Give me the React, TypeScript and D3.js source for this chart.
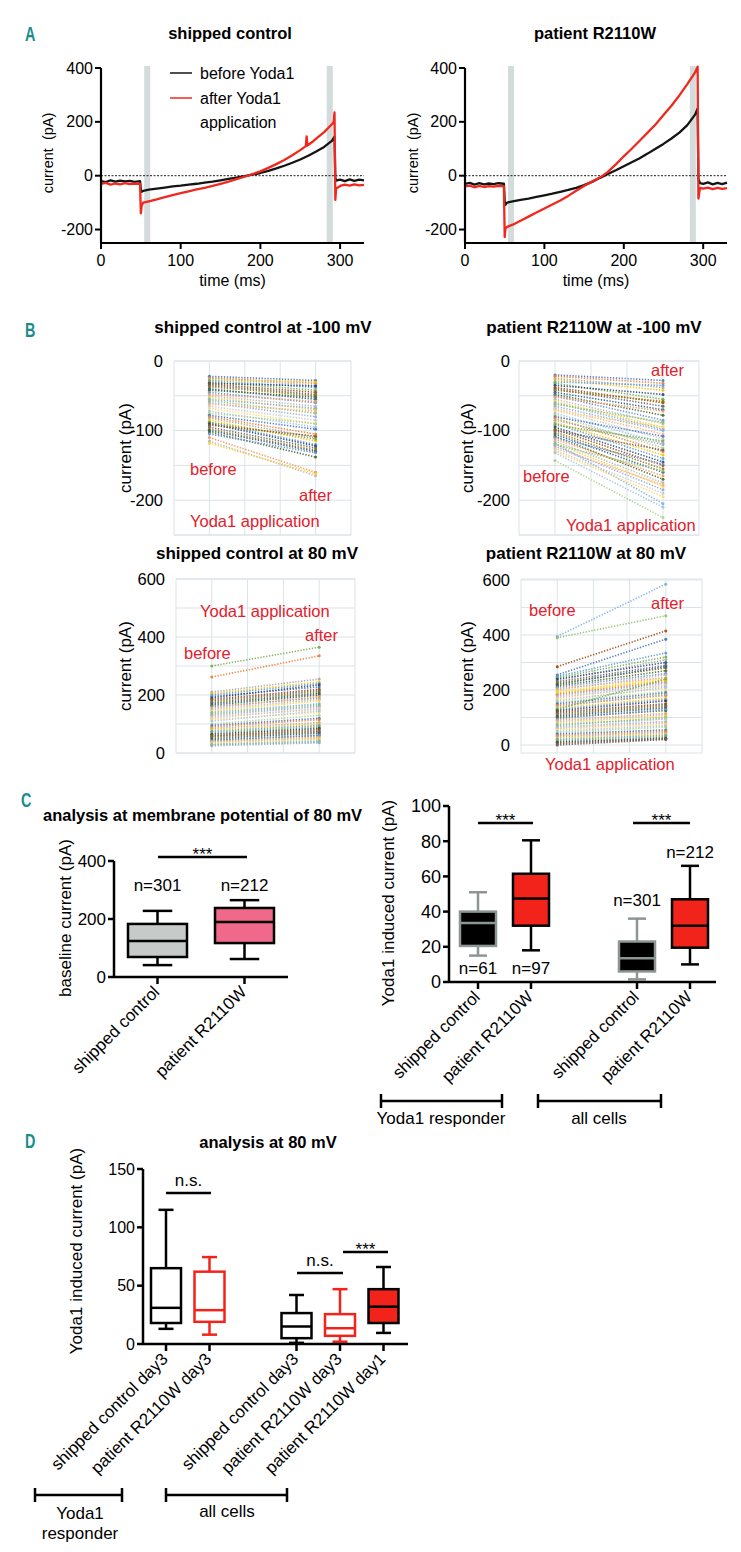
import React from 'react';
import * as d3 from 'd3';

const FONT = '"Liberation Sans", Arial, Helvetica, sans-serif';
const RED = '#f2231b';
const TRACE_RED = '#f0281e';
const TEAL = '#1b8c8c';
const ANNO = '#e4202c';
const GRID = '#dbe3e6';
const PALETTE = ['#4472C4', '#ED7D31', '#A5A5A5', '#FFC000', '#5B9BD5', '#70AD47', '#264478', '#9E480E', '#636363', '#997300', '#255E91', '#43682B', '#698ED0', '#F1975A', '#B7B7B7', '#FFCD33', '#7CAFDD', '#8CC168', '#8FAADC', '#F4B183', '#C9C9C9', '#FFD966', '#9DC3E6', '#A9D18E'];

// ===== Panel A: current traces [time ms, current pA] =====
const aTimeTicks = [0, 100, 200, 300];
const aCurrentTicks = [-200, 0, 200, 400];
const aStepMarks = [58, 287];
const ctrlBefore = [[0, -20], [6, -24], [12, -17], [18, -22], [24, -18], [30, -21], [36, -19], [42, -23], [49, -20], [50, -52], [51, -60], [53, -56], [60, -52], [70, -48], [80, -44], [90, -40], [100, -37], [110, -33], [120, -30], [130, -26], [140, -22], [150, -17], [160, -12], [170, -7], [180, -2], [190, 4], [200, 10], [210, 18], [220, 27], [230, 37], [240, 48], [250, 60], [260, 74], [270, 90], [280, 107], [290, 130], [293, 145], [294, -8], [295, -18], [300, -15], [306, -20], [312, -14], [318, -19], [324, -15], [330, -17]];
const ctrlAfter = [[0, -30], [6, -27], [12, -33], [18, -29], [24, -32], [30, -28], [36, -31], [42, -29], [49, -30], [50, -140], [51, -112], [53, -100], [60, -95], [70, -88], [80, -80], [90, -72], [100, -65], [110, -58], [120, -51], [130, -45], [140, -38], [150, -30], [160, -22], [170, -13], [180, -4], [190, 6], [200, 16], [210, 29], [220, 43], [230, 58], [240, 76], [250, 95], [257, 110], [258, 146], [259, 112], [265, 125], [270, 138], [280, 162], [290, 192], [292, 200], [293, 235], [294, -90], [295, -48], [300, -38], [306, -33], [312, -37], [318, -32], [324, -36], [330, -34]];
const patBefore = [[0, -30], [6, -27], [12, -33], [18, -28], [24, -32], [30, -29], [36, -31], [42, -28], [49, -30], [50, -95], [51, -108], [53, -100], [60, -95], [70, -90], [80, -85], [90, -79], [100, -73], [110, -67], [120, -60], [130, -53], [140, -45], [150, -35], [160, -23], [170, -8], [180, 6], [190, 20], [200, 35], [210, 50], [220, 65], [230, 82], [240, 100], [250, 118], [260, 138], [270, 160], [280, 188], [290, 228], [293, 250], [294, -12], [296, -28], [300, -30], [306, -25], [312, -32], [318, -27], [324, -31], [330, -26]];
const patAfter = [[0, -40], [6, -37], [12, -43], [18, -38], [24, -42], [30, -39], [36, -41], [42, -38], [49, -40], [50, -228], [51, -196], [53, -190], [60, -182], [70, -167], [80, -152], [90, -137], [100, -122], [110, -107], [120, -92], [130, -75], [140, -56], [150, -38], [160, -22], [170, -7], [180, 14], [190, 42], [200, 72], [210, 100], [220, 130], [230, 160], [240, 190], [250, 225], [260, 260], [270, 298], [280, 340], [290, 385], [293, 405], [294, -85], [296, -45], [300, -48], [306, -44], [312, -50], [318, -45], [324, -49], [330, -46]];

// ===== Panel B: paired values (before, after) =====
const bSlots = [1, 4];
const bNegTicks = [-200, -100, 0];
const bPosTicks = [0, 200, 400, 600];
const ctrlNegBefore = [-22, -24, -25, -27, -28, -30, -32, -33, -35, -37, -40, -42, -45, -48, -50, -52, -55, -57, -60, -62, -65, -68, -72, -75, -78, -80, -82, -85, -88, -88, -90, -92, -95, -98, -100, -102, -105, -110, -115, -118];
const ctrlNegAfter = [-28, -32, -35, -30, -38, -42, -36, -45, -48, -50, -55, -52, -60, -58, -65, -70, -68, -75, -80, -72, -85, -90, -95, -90, -98, -105, -110, -115, -120, -112, -122, -108, -125, -128, -130, -138, -132, -160, -165, -162];
const patNegBefore = [-20, -22, -25, -27, -30, -32, -35, -38, -40, -42, -45, -48, -50, -52, -55, -58, -60, -62, -65, -68, -70, -72, -75, -78, -80, -82, -85, -88, -90, -92, -95, -98, -100, -102, -105, -108, -110, -112, -115, -118, -118, -120, -122, -125, -128, -130, -132, -143];
const patNegAfter = [-28, -32, -38, -42, -35, -55, -48, -60, -65, -58, -70, -78, -85, -72, -90, -95, -98, -88, -100, -105, -112, -95, -118, -125, -108, -130, -120, -135, -140, -115, -145, -150, -128, -155, -160, -170, -148, -165, -175, -180, -205, -158, -185, -178, -190, -195, -210, -225];
const ctrlPosBefore = [195, 262, 210, 205, 200, 300, 190, 185, 180, 175, 170, 165, 160, 155, 150, 145, 140, 135, 130, 125, 120, 115, 110, 100, 95, 90, 85, 80, 75, 70, 65, 60, 58, 55, 50, 45, 42, 40, 38, 35, 30, 28, 25];
const ctrlPosAfter = [228, 335, 255, 245, 240, 365, 235, 220, 215, 210, 205, 200, 190, 195, 185, 180, 170, 165, 160, 150, 155, 140, 145, 130, 120, 115, 105, 100, 95, 90, 85, 80, 75, 72, 68, 60, 62, 55, 50, 48, 42, 38, 35];
const patPosBefore = [255, 185, 235, 190, 250, 245, 240, 285, 230, 225, 220, 215, 210, 205, 200, 195, 395, 390, 180, 175, 170, 165, 160, 155, 150, 145, 140, 135, 130, 130, 125, 120, 115, 110, 105, 100, 95, 90, 85, 80, 75, 70, 65, 60, 60, 55, 50, 45, 40, 35, 30, 25, 20, 15, 10, 5, 0];
const patPosAfter = [385, 230, 310, 235, 335, 320, 300, 415, 290, 280, 285, 270, 260, 245, 255, 240, 585, 470, 225, 215, 220, 205, 210, 195, 190, 180, 185, 170, 165, 240, 160, 150, 145, 140, 135, 125, 130, 115, 110, 105, 95, 100, 85, 80, 95, 75, 70, 65, 55, 50, 45, 40, 35, 30, 25, 22, 20];

// ===== Panel C: box statistics [min, q1, median, q3, max] =====
const cBaseCats = ['shipped control', 'patient R2110W'];
const cBaseN = ['n=301', 'n=212'];
const cBaseStats = [[41, 69, 124, 183, 228], [62, 117, 190, 238, 265]];
const cBaseTicks = [0, 200, 400];
const cYodaCats = ['shipped control', 'patient R2110W', 'shipped control', 'patient R2110W'];
const cYodaN = ['n=61', 'n=97', 'n=301', 'n=212'];
const cYodaStats = [[15, 20.5, 33.5, 40, 51], [18, 32, 47.5, 61.5, 80.5], [1.5, 6, 13.5, 23, 36], [10, 19.5, 32, 47, 66]];
const cYodaTicks = [0, 20, 40, 60, 80, 100];
const cGroups = ['Yoda1 responder', 'all cells'];

// ===== Panel D =====
const dCats = ['shipped control day3', 'patient R2110W day3', 'shipped control day3', 'patient R2110W day3', 'patient R2110W day1'];
const dStats = [[13, 18, 31, 65, 115], [8, 19, 29, 62, 74.5], [1, 5, 15, 26.5, 42], [2, 7, 13.5, 25.6, 47], [9.5, 18, 32, 47, 66]];
const dTicks = [0, 50, 100, 150];

function Letter({ x, y, t }) {
  return (
    <text transform={`translate(${x},${y}) scale(0.72,1)`} fontSize={20} fontWeight="bold" fill={TEAL}>{t}</text>
  );
}

function TracePanel({ left, right, title, titleX, before, after, legend, ylabX }) {
  const x = d3.scaleLinear().domain([0, 330]).range([left, right]);
  const y = d3.scaleLinear().domain([-250, 400]).range([243, 68]);
  const line = d3.line().x((d) => x(d[0])).y((d) => y(d[1]));
  return (
    <g>
      <text x={titleX} y={39} textAnchor="middle" fontSize={16.5} fontWeight="bold">{title}</text>
      {aStepMarks.map((t) => (
        <rect key={t} x={x(t) - 3} y={66} width={6} height={243 - 66} fill="#d3dbdb" />
      ))}
      <line x1={left} x2={right} y1={y(0)} y2={y(0)} stroke="#000" strokeWidth={0.9} strokeDasharray="2,1.5" />
      <path d={line(before)} fill="none" stroke="#141414" strokeWidth={2.3} strokeLinejoin="round" />
      <path d={line(after)} fill="none" stroke={TRACE_RED} strokeWidth={2.3} strokeLinejoin="round" />
      <line x1={left} x2={left} y1={y(400)} y2={243} stroke="#000" strokeWidth={2.2} />
      <line x1={left} x2={right} y1={243} y2={243} stroke="#000" strokeWidth={2.2} />
      {aCurrentTicks.map((v) => (
        <g key={v}>
          <line x1={left - 6} x2={left} y1={y(v)} y2={y(v)} stroke="#000" strokeWidth={2} />
          <text x={left - 8} y={y(v)} dy="0.35em" textAnchor="end" fontSize={16}>{v}</text>
        </g>
      ))}
      {aTimeTicks.map((v) => (
        <g key={v}>
          <line x1={x(v)} x2={x(v)} y1={243} y2={249} stroke="#000" strokeWidth={2} />
          <text x={x(v)} y={266} textAnchor="middle" fontSize={16}>{v}</text>
        </g>
      ))}
      <text x={(left + right) / 2} y={286} textAnchor="middle" fontSize={16}>time (ms)</text>
      <text transform={`translate(${ylabX},153) rotate(-90)`} textAnchor="middle" dominantBaseline="central" fontSize={14.5} xmlSpace="preserve">current  (pA)</text>
      {legend && (
        <g>
          <line x1={170} x2={192} y1={73} y2={73} stroke="#141414" strokeWidth={1.5} />
          <text x={200} y={79} fontSize={16}>before Yoda1</text>
          <line x1={170} x2={192} y1={98} y2={98} stroke={TRACE_RED} strokeWidth={1.5} />
          <text x={200} y={104} fontSize={16}>after Yoda1</text>
          <text x={200} y={128} fontSize={16}>application</text>
        </g>
      )}
    </g>
  );
}

function PairPanel({ x0, x1, yTop, yBot, yRange, domain, step, ticks, before, after, title, titleX, titleY, labelX, ylabX, annos }) {
  const x = d3.scaleLinear().domain([0, 5]).range([x0, x1]);
  const y = d3.scaleLinear().domain(domain).range(yRange);
  const gridVals = d3.range(domain[0], domain[1] + 0.001, step);
  return (
    <g>
      <text x={titleX} y={titleY} textAnchor="middle" fontSize={17} fontWeight="bold">{title}</text>
      {gridVals.map((v) => (
        <line key={'h' + v} x1={x0} x2={x1} y1={y(v)} y2={y(v)} stroke={GRID} strokeWidth={1} />
      ))}
      <line x1={x0} x2={x1} y1={yBot} y2={yBot} stroke={GRID} strokeWidth={1} />
      <line x1={x0} x2={x1} y1={yTop} y2={yTop} stroke={GRID} strokeWidth={1} />
      {d3.range(0, 6).map((v) => (
        <line key={'v' + v} x1={x(v)} x2={x(v)} y1={yTop} y2={yBot} stroke={GRID} strokeWidth={1} />
      ))}
      {ticks.map((v) => (
        <text key={v} x={labelX} y={y(v)} dy="0.35em" textAnchor="end" fontSize={16.5}>{v}</text>
      ))}
      <text transform={`translate(${ylabX},${(yTop + yBot) / 2}) rotate(-90)`} textAnchor="middle" dominantBaseline="central" fontSize={17}>current (pA)</text>
      {before.map((b, i) => {
        const c = PALETTE[i % PALETTE.length];
        return (
          <g key={i} opacity={0.9}>
            <line x1={x(bSlots[0])} x2={x(bSlots[1])} y1={y(b)} y2={y(after[i])} stroke={c} strokeWidth={1.6} strokeDasharray="1.3,1.6" />
            <circle cx={x(bSlots[0])} cy={y(b)} r={1.5} fill={c} />
            <circle cx={x(bSlots[1])} cy={y(after[i])} r={1.5} fill={c} />
          </g>
        );
      })}
      {annos.map((a, i) => (
        <text key={i} x={a[1]} y={a[2]} fontSize={16.5} fill={ANNO}>{a[0]}</text>
      ))}
    </g>
  );
}

function BoxSet({ stats, xs, y, w, fills, strokes, sw }) {
  return (
    <g>
      {stats.map((s, i) => {
        const cx = xs[i];
        const st = strokes[i];
        return (
          <g key={i}>
            <line x1={cx} x2={cx} y1={y(s[4])} y2={y(s[3])} stroke={st} strokeWidth={sw} />
            <line x1={cx} x2={cx} y1={y(s[1])} y2={y(s[0])} stroke={st} strokeWidth={sw} />
            <line x1={cx - w / 4} x2={cx + w / 4} y1={y(s[4])} y2={y(s[4])} stroke={st} strokeWidth={sw} />
            <line x1={cx - w / 4} x2={cx + w / 4} y1={y(s[0])} y2={y(s[0])} stroke={st} strokeWidth={sw} />
            <rect x={cx - w / 2} y={y(s[3])} width={w} height={y(s[1]) - y(s[3])} fill={fills[i]} stroke={st} strokeWidth={sw} />
            <line x1={cx - w / 2} x2={cx + w / 2} y1={y(s[2])} y2={y(s[2])} stroke={st} strokeWidth={sw} />
          </g>
        );
      })}
    </g>
  );
}

function Axes({ axisX, xEnd, y, top, ticks, tickXs, fs }) {
  const y0 = y(0);
  return (
    <g>
      <line x1={axisX} x2={axisX} y1={y(top)} y2={y0} stroke="#000" strokeWidth={2.5} />
      <line x1={axisX} x2={xEnd} y1={y0} y2={y0} stroke="#000" strokeWidth={2.5} />
      {ticks.map((v) => (
        <g key={v}>
          <line x1={axisX - 6} x2={axisX} y1={y(v)} y2={y(v)} stroke="#000" strokeWidth={2.5} />
          <text x={axisX - 8} y={y(v)} dy="0.36em" textAnchor="end" fontSize={fs}>{v}</text>
        </g>
      ))}
      {tickXs.map((tx, i) => (
        <line key={i} x1={tx} x2={tx} y1={y0} y2={y0 + 7} stroke="#000" strokeWidth={2.5} />
      ))}
    </g>
  );
}

function RotLabels({ xs, y0, cats, fs }) {
  return (
    <g>
      {cats.map((c, i) => (
        <text key={i} transform={`translate(${xs[i] + 3},${y0 + 16}) rotate(-45)`} textAnchor="end" fontSize={fs}>{c}</text>
      ))}
    </g>
  );
}

function Bracket({ x1, x2, y }) {
  return (
    <g stroke="#000" strokeWidth={2.5}>
      <line x1={x1} x2={x2} y1={y} y2={y} />
      <line x1={x1} x2={x1} y1={y - 7} y2={y + 7} />
      <line x1={x2} x2={x2} y1={y - 7} y2={y + 7} />
    </g>
  );
}

function Sig({ x1, x2, y, t, fs }) {
  const ns = t !== '***';
  return (
    <g>
      <line x1={x1} x2={x2} y1={y} y2={y} stroke="#000" strokeWidth={2.5} />
      <text x={(x1 + x2) / 2} y={ns ? y - 7 : y + 3} textAnchor="middle" fontSize={fs}>{t}</text>
    </g>
  );
}

export default function App() {
  // Panel C left
  const ycl = d3.scaleLinear().domain([0, 400]).range([977, 861]);
  const xcl = d3.scaleLinear().domain([-0.5, 1.5]).range([114, 288]);
  const clXs = cBaseCats.map((_, i) => xcl(i));
  // Panel C right
  const ycr = d3.scaleLinear().domain([0, 100]).range([982, 806]);
  const xcr = d3.scaleLinear().domain([0, 4]).range([478, 690]);
  const crSlots = [0, 1, 3, 4];
  const crXs = crSlots.map((s) => xcr(s));
  // Panel D
  const yd = d3.scaleLinear().domain([0, 150]).range([1344, 1169]);
  const xd = d3.scaleLinear().domain([0, 5]).range([166, 383.5]);
  const dSlots = [0, 1, 3, 4, 5];
  const dXs = dSlots.map((s) => xd(s));

  return (
    <div style={{ position: 'absolute', left: 0, top: 0 }}>
      <svg width={741} height={1552} style={{ display: 'block', background: '#fff' }} fontFamily={FONT}>
        <rect width={741} height={1552} fill="#fff" />
        {/* ===== A ===== */}
        <Letter x={25} y={41} t="A" />
        <TracePanel left={101} right={364} title="shipped control" titleX={230} before={ctrlBefore} after={ctrlAfter} legend={true} ylabX={48} />
        <TracePanel left={465} right={727} title="patient R2110W" titleX={595} before={patBefore} after={patAfter} legend={false} ylabX={413} />

        {/* ===== B ===== */}
        <Letter x={25} y={337} t="B" />
        <PairPanel x0={174} x1={351} yTop={361} yBot={535} yRange={[535, 361]} domain={[-250, 0]} step={50} ticks={bNegTicks}
          before={ctrlNegBefore} after={ctrlNegAfter} title="shipped control at -100 mV" titleX={263} titleY={333} labelX={163} ylabX={125}
          annos={[['before', 190, 475], ['after', 299, 501], ['Yoda1 application', 190, 527]]} />
        <PairPanel x0={519} x1={699} yTop={361} yBot={535} yRange={[535, 361]} domain={[-250, 0]} step={50} ticks={bNegTicks}
          before={patNegBefore} after={patNegAfter} title="patient R2110W at -100 mV" titleX={594} titleY={333} labelX={510} ylabX={467}
          annos={[['after', 651, 376], ['before', 523, 482], ['Yoda1 application', 566, 531]]} />
        <PairPanel x0={176} x1={355} yTop={579} yBot={753} yRange={[753, 579]} domain={[0, 600]} step={100} ticks={bPosTicks}
          before={ctrlPosBefore} after={ctrlPosAfter} title="shipped control at 80 mV" titleX={257} titleY={559} labelX={165} ylabX={125}
          annos={[['Yoda1 application', 200, 617], ['after', 305, 641], ['before', 184, 659]]} />
        <PairPanel x0={521} x1={702} yTop={579} yBot={753} yRange={[745, 580]} domain={[0, 600]} step={100} ticks={bPosTicks}
          before={patPosBefore} after={patPosAfter} title="patient R2110W at 80 mV" titleX={586} titleY={559} labelX={510} ylabX={467}
          annos={[['before', 529, 616], ['after', 651, 609], ['Yoda1 application', 545, 770]]} />

        {/* ===== C ===== */}
        <Letter x={21} y={807} t="C" />
        <text x={43} y={821} fontSize={16.5} fontWeight="bold">analysis at membrane potential of 80 mV</text>
        <Sig x1={158} x2={247} y={857} t="***" fs={17} />
        <BoxSet stats={cBaseStats} xs={clXs} y={ycl} w={59} fills={['#c6cbca', '#f0698b']} strokes={['#000', '#000']} sw={2.5} />
        <Axes axisX={114} xEnd={288} y={ycl} top={400} ticks={cBaseTicks} tickXs={clXs} fs={17} />
        {cBaseN.map((n, i) => (
          <text key={n} x={clXs[i]} y={891} textAnchor="middle" fontSize={17}>{n}</text>
        ))}
        <text transform="translate(65,918) rotate(-90)" textAnchor="middle" dominantBaseline="central" fontSize={17}>baseline current (pA)</text>
        <RotLabels xs={clXs} y0={977} cats={cBaseCats} fs={17} />

        <BoxSet stats={cYodaStats} xs={crXs} y={ycr} w={36} fills={['#000', RED, '#000', RED]} strokes={['#8d9595', '#000', '#8d9595', '#000']} sw={2.5} />
        <Axes axisX={449} xEnd={716} y={ycr} top={100} ticks={cYodaTicks} tickXs={crXs} fs={18} />
        <Sig x1={478} x2={533} y={823} t="***" fs={17} />
        <Sig x1={633} x2={690} y={823} t="***" fs={17} />
        <text x={crXs[0]} y={974} textAnchor="middle" fontSize={17}>{cYodaN[0]}</text>
        <text x={crXs[1]} y={974} textAnchor="middle" fontSize={17}>{cYodaN[1]}</text>
        <text x={crXs[2]} y={906} textAnchor="middle" fontSize={17}>{cYodaN[2]}</text>
        <text x={crXs[3]} y={858} textAnchor="middle" fontSize={17}>{cYodaN[3]}</text>
        <text transform="translate(388,903) rotate(-90)" textAnchor="middle" dominantBaseline="central" fontSize={17}>Yoda1 induced current (pA)</text>
        <RotLabels xs={crXs} y0={982} cats={cYodaCats} fs={17} />
        <Bracket x1={381} x2={502} y={1101} />
        <Bracket x1={538} x2={661} y={1101} />
        <text x={441} y={1124} textAnchor="middle" fontSize={17}>{cGroups[0]}</text>
        <text x={599} y={1124} textAnchor="middle" fontSize={17}>{cGroups[1]}</text>

        {/* ===== D ===== */}
        <Letter x={25} y={1148} t="D" />
        <text x={268} y={1148} textAnchor="middle" fontSize={16.5} fontWeight="bold">analysis at 80 mV</text>
        <BoxSet stats={dStats} xs={dXs} y={yd} w={30} fills={['none', 'none', 'none', 'none', RED]} strokes={['#000', RED, '#000', RED, '#000']} sw={2.5} />
        <Axes axisX={143} xEnd={408} y={yd} top={150} ticks={dTicks} tickXs={dXs} fs={16} />
        <Sig x1={166} x2={211} y={1193} t="n.s." fs={17} />
        <Sig x1={297} x2={343} y={1273} t="n.s." fs={17} />
        <Sig x1={343} x2={388} y={1252} t="***" fs={17} />
        <text transform="translate(76,1251) rotate(-90)" textAnchor="middle" dominantBaseline="central" fontSize={17}>Yoda1 induced current (pA)</text>
        <RotLabels xs={dXs} y0={1344} cats={dCats} fs={17} />
        <Bracket x1={35} x2={122} y={1495} />
        <Bracket x1={166} x2={287} y={1495} />
        <text x={80} y={1519} textAnchor="middle" fontSize={17}>Yoda1</text>
        <text x={80} y={1539} textAnchor="middle" fontSize={17}>responder</text>
        <text x={227} y={1517} textAnchor="middle" fontSize={17}>{cGroups[1]}</text>
      </svg>
    </div>
  );
}
